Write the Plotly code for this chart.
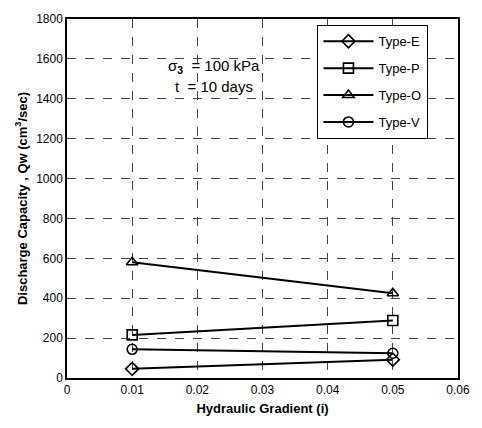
import plotly.graph_objects as go

gradient = [0.01, 0.05]
type_e = [46, 92]
type_p = [216, 288]
type_o = [580, 425]
type_v = [144, 124]
names = ["Type-E", "Type-P", "Type-O", "Type-V"]
symbols = ["diamond-open", "square-open", "triangle-up-open", "circle-open"]
series = [type_e, type_p, type_o, type_v]
x_ticks = [0, 0.01, 0.02, 0.03, 0.04, 0.05, 0.06]
x_tick_text = ["0", "0.01", "0.02", "0.03", "0.04", "0.05", "0.06"]
y_ticks = [0, 200, 400, 600, 800, 1000, 1200, 1400, 1600, 1800]

fig = go.Figure()
for i, (nm, sy, vals) in enumerate(zip(names, symbols, series)):
    fig.add_trace(go.Scatter(
        x=gradient, y=vals, name=nm, mode="lines+markers",
        line=dict(color="black", width=2),
        marker=dict(symbol=sy, size=10, color="black", line=dict(width=1.6, color="black")),
        legendgroup=nm,
    ))

fig.add_annotation(x=0.0225, y=1560, xref="x", yref="y",
                   text="σ<b><sub>3</sub></b>  = 100 kPa", showarrow=False,
                   font=dict(size=15, color="black", family="Liberation Sans, Arial"))
fig.add_annotation(x=0.0225, y=1460, xref="x", yref="y",
                   text="t  = 10 days", showarrow=False,
                   font=dict(size=15, color="black", family="Liberation Sans, Arial"))

axis_common = dict(showline=True, linecolor="black", linewidth=1.5, mirror=True,
                   showgrid=True, gridcolor="#444", gridwidth=0.8, griddash="dash",
                   ticks="", zeroline=False,
                   tickfont=dict(size=12, color="black", family="Liberation Sans, Arial"))

fig.update_layout(
    width=482, height=428,
    margin=dict(l=67, r=12, t=17, b=50),
    plot_bgcolor="white", paper_bgcolor="white",
    font=dict(family="Liberation Sans, Arial", color="black"),
    xaxis=dict(range=[0, 0.06], tickvals=x_ticks, ticktext=x_tick_text,
               title=dict(text="<b>Hydraulic Gradient (i)</b>", font=dict(size=13), standoff=8),
               **axis_common),
    yaxis=dict(range=[0, 1800], tickvals=y_ticks,
               title=dict(text="<b>Discharge Capacity , Qw (cm<sup>3</sup>/sec)</b>", font=dict(size=13), standoff=6),
               **axis_common),
    legend=dict(x=0.64, y=0.983, xanchor="left", yanchor="top",
                bordercolor="black", borderwidth=1.2, bgcolor="white",
                traceorder="grouped", tracegroupgap=7,
                font=dict(size=13, color="black"),
                itemwidth=50),
)

fig.write_html("out.html")
